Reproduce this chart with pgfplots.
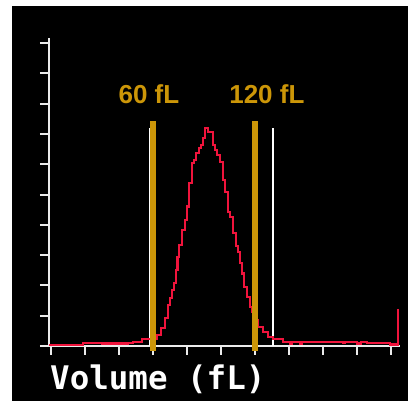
\documentclass[border=0pt]{standalone}
\usepackage{pgfplots}
\pgfplotsset{compat=1.18}
\usepackage{fontspec}
\newfontfamily\monofont{DejaVu Sans Mono}
\newfontfamily\labfont{Liberation Sans}
\definecolor{gold}{RGB}{204,150,8}
\definecolor{histred}{RGB}{240,20,60}

% volume histogram, step values (x in fL, start of each step)
\pgfplotstableread{
x y
-1.2 0.3
18.8 1.0
30.0 0.8
45.3 1.0
48.2 1.3
53.5 2.3
59.4 2.3
62.4 3.6
64.7 5.9
67.1 9.2
68.8 13.5
70.0 15.8
71.2 18.5
72.4 20.8
73.5 25.0
74.4 29.4
75.3 33.3
77.0 38.3
78.8 41.6
80.0 46.0
81.2 53.8
82.9 60.4
84.1 61.4
85.3 63.7
87.0 65.3
88.2 66.3
89.4 68.6
90.6 71.9
92.4 70.6
95.3 66.3
96.5 64.7
97.6 63.0
99.4 60.7
101.2 54.8
102.4 50.8
104.1 44.2
105.3 42.6
107.0 37.3
108.8 33.0
110.0 31.0
111.2 27.4
112.4 24.0
113.5 19.5
115.3 16.2
117.0 12.9
118.2 11.2
119.4 8.6
121.8 6.3
124.7 4.6
127.6 3.0
130.6 2.3
136.5 1.3
140.6 0.8
141.8 1.3
146.5 0.8
147.6 1.3
171.8 1.0
172.9 1.3
180.0 0.8
182.4 1.3
185.9 1.0
199.4 0.5
204.1 12.2
}\histdata

\begin{document}
\begin{tikzpicture}
\fill[white] (0,0) rectangle (408pt,-401pt);
\fill[black] (12pt,-6pt) rectangle (408pt,-401pt);
\begin{axis}[
    at={(49pt,-346pt)}, anchor=south west,
    scale only axis, width=351pt, height=308pt,
    xmin=-1.2, xmax=205.3, ymin=0, ymax=101.7,
    axis lines*=left,
    axis line style={-, white!92!black, line width=2.4pt},
    xtick={0,20,...,200}, ytick={0,10,...,100},
    xticklabels={}, yticklabels={},
    tick align=outside, major tick length=9pt,
    tick style={white!92!black, line width=2pt},
    clip=false,
    xlabel={\monofont\bfseries Volume (fL)},
    xlabel style={at={(axis description cs:0,0)}, anchor=base west,
        yshift=-44pt, xshift=1pt, inner sep=0pt, text=white, font=\fontsize{32.5}{36}\selectfont},
]
% discriminator lines
\addplot[white, line width=2pt] coordinates {(58,0) (58,72)};
\addplot[white, line width=2pt] coordinates {(130.6,0) (130.6,72)};
% histogram
\addplot[histred, line width=2.4pt, const plot mark left] table[x=x, y=y] {\histdata};
% 60 / 120 fL markers
\addplot[gold, line width=6pt] coordinates {(60,-1.6) (60,74.3)};
\addplot[gold, line width=6pt] coordinates {(120,-1.6) (120,74.3)};
\node[gold, anchor=base, inner sep=0pt, font=\labfont\bfseries\fontsize{26}{30}\selectfont]
    at (axis cs:57.6,80.2) {60 fL};
\node[gold, anchor=base, inner sep=0pt, font=\labfont\bfseries\fontsize{26}{30}\selectfont]
    at (axis cs:127,80.2) {120 fL};
\end{axis}
\end{tikzpicture}
\end{document}
